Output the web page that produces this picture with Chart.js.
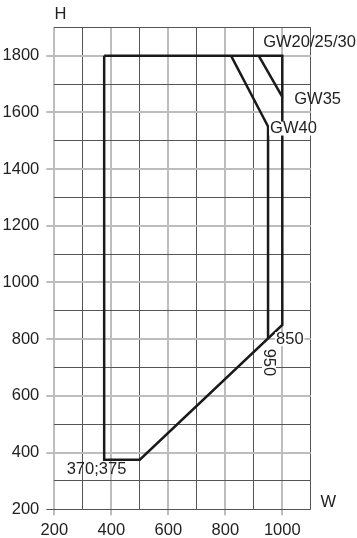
<!DOCTYPE html>
<html>
<head>
<meta charset="utf-8">
<script src="https://cdn.jsdelivr.net/npm/chart.js@4/dist/chart.umd.min.js"></script>
<style>
  html, body { margin: 0; padding: 0; background: #fff; }
  #chart { display: block; }
</style>
</head>
<body>
<canvas id="chart" width="357" height="538"></canvas>
<script>
// outline of the frame sizes (W x H)
const outlineW = [375, 1000, 1000, 500, 375, 375];
const outlineH = [1800, 1800, 850, 375, 375, 1800];
const gw40W = [820, 950, 950];
const gw40H = [1800, 1550, 802];
const gw35W = [917, 1000];
const gw35H = [1800, 1655];
const xTicks = [200, 400, 600, 800, 1000];
const yTicks = [200, 400, 600, 800, 1000, 1200, 1400, 1600, 1800];

const FONT = '16.5px "Liberation Sans", Arial, sans-serif';
const INK = '#222';

function pts(ws, hs) {
    return ws.map((w, i) => ({ x: w, y: hs[i] }));
}

// text notes, anchored in chart units
const notes = [
    { text: 'H', x: 222, y: 1945, align: 'center' },
    { text: 'W', x: 1161, y: 224, align: 'center' },
    { text: 'GW20/25/30', x: 933, y: 1847, align: 'left' },
    { text: 'GW35', x: 1042, y: 1647, align: 'left' },
    { text: 'GW40', x: 957, y: 1543, align: 'left', bg: true },
    { text: '850', x: 978, y: 800, align: 'left', bg: true },
    { text: '950', x: 953, y: 718, align: 'center', rot: true, bg: true },
    { text: '370;375', x: 243.5, y: 340.6, align: 'left' }
];

const notePlugin = {
    id: 'notes',
    afterDatasetsDraw(chart) {
        const c = chart.ctx;
        const sx = chart.scales.x, sy = chart.scales.y;
        c.save();
        c.font = FONT;
        c.textBaseline = 'middle';
        notes.forEach(n => {
            const px = sx.getPixelForValue(n.x);
            const py = sy.getPixelForValue(n.y);
            const w = c.measureText(n.text).width;
            c.save();
            c.translate(px, py);
            if (n.rot) c.rotate(Math.PI / 2);
            c.textAlign = n.align;
            const left = n.align === 'center' ? -w / 2 : 0;
            if (n.bg) {
                c.fillStyle = '#fff';
                c.fillRect(left - 1, -7, w + 2, 14);
            }
            c.fillStyle = INK;
            c.fillText(n.text, 0, 0);
            c.restore();
        });
        c.restore();
    }
};

const lineStyle = {
    showLine: true,
    borderColor: '#1a1a1a',
    borderWidth: 2.5,
    pointRadius: 0,
    fill: false,
    tension: 0
};

function gridColor(v, isY) {
    if (isY && v === 200) return '#555';
    return v % 200 === 0 ? '#bdbdbd' : '#555';
}

new Chart(document.getElementById('chart').getContext('2d'), {
    type: 'scatter',
    data: {
        datasets: [
            Object.assign({ data: pts(outlineW, outlineH) }, lineStyle),
            Object.assign({ data: pts(gw40W, gw40H) }, lineStyle),
            Object.assign({ data: pts(gw35W, gw35H) }, lineStyle)
        ]
    },
    options: {
        responsive: false,
        animation: false,
        layout: { padding: { top: 27.3, right: 46.2, left: 0, bottom: 0 } },
        plugins: { legend: { display: false }, tooltip: { enabled: false } },
        scales: {
            x: {
                type: 'linear',
                min: 200,
                max: 1100,
                afterFit(s) { s.height = 28.7; },
                border: { display: false },
                grid: {
                    color: c => gridColor(c.tick.value, false),
                    lineWidth: c => c.tick.value % 200 === 0 ? 2 : 1,
                    tickColor: c => xTicks.includes(c.tick.value) ? gridColor(c.tick.value, false) : 'rgba(0,0,0,0)',
                    tickWidth: c => c.tick.value % 200 === 0 ? 2 : 1,
                    tickLength: 6
                },
                ticks: {
                    stepSize: 100,
                    autoSkip: false,
                    maxRotation: 0,
                    padding: 5,
                    color: INK,
                    font: { family: '"Liberation Sans", Arial, sans-serif', size: 16.5 },
                    callback: v => xTicks.includes(v) ? String(v) : ''
                }
            },
            y: {
                type: 'linear',
                min: 200,
                max: 1900,
                afterFit(s) { s.width = 54.3; },
                border: { display: false },
                grid: {
                    color: c => gridColor(c.tick.value, true),
                    lineWidth: c => (c.tick.value % 200 === 0 && c.tick.value !== 200) ? 2 : 1,
                    tickColor: c => yTicks.includes(c.tick.value) ? gridColor(c.tick.value, true) : 'rgba(0,0,0,0)',
                    tickWidth: c => (c.tick.value % 200 === 0 && c.tick.value !== 200) ? 2 : 1,
                    tickLength: 8
                },
                ticks: {
                    stepSize: 100,
                    autoSkip: false,
                    padding: 7,
                    color: INK,
                    font: { family: '"Liberation Sans", Arial, sans-serif', size: 16.5 },
                    callback: v => yTicks.includes(v) ? String(v) : ''
                }
            }
        }
    },
    plugins: [notePlugin]
});
</script>
</body>
</html>
